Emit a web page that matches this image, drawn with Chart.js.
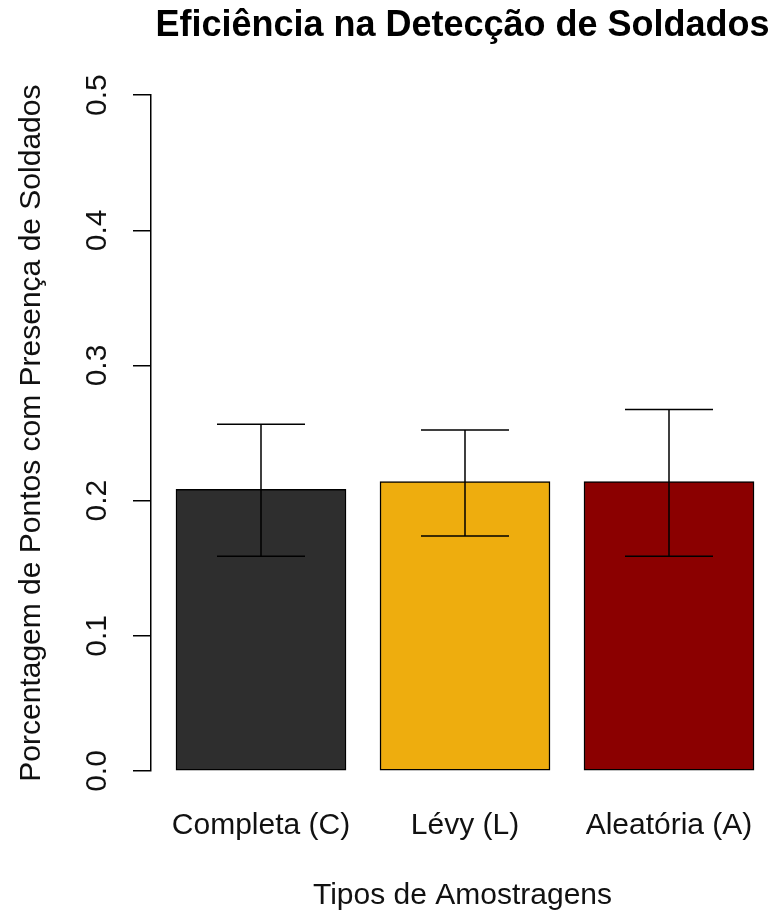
<!DOCTYPE html>
<html>
<head>
<meta charset="utf-8">
<script src="https://cdn.jsdelivr.net/npm/chart.js@4/dist/chart.umd.min.js"></script>
<style>
  html, body { margin: 0; padding: 0; background: #fff; }
  #wrap { width: 774px; height: 913px; }
</style>
</head>
<body>
<div id="wrap"><canvas id="chart" width="774" height="913"></canvas></div>
<script>
// --- Dados ---
const categories = ['Completa (C)', 'Lévy (L)', 'Aleatória (A)'];
const means = [0.2084, 0.2141, 0.2141];
const upper = [0.2565, 0.2523, 0.2674];   // topo da barra de erro
const lower = [0.1588, 0.1738, 0.1588];   // base da barra de erro
const barColors = ['#2E2E2E', '#EEAD0E', '#8B0000'];
const yTicks = [0, 0.1, 0.2, 0.3, 0.4, 0.5];

const FONT = '"Liberation Sans", Arial, sans-serif';

// barras de erro desenhadas por cima das barras
const errorBars = {
    id: 'errorBars',
    afterDatasetsDraw(chart) {
        const { ctx, scales: { x, y } } = chart;
        const cap = 44;
        ctx.save();
        ctx.strokeStyle = '#000';
        ctx.lineWidth = 1.5;
        categories.forEach((c, i) => {
            const px = x.getPixelForValue(i + 1);
            const hi = y.getPixelForValue(upper[i]);
            const lo = y.getPixelForValue(lower[i]);
            ctx.beginPath();
            ctx.moveTo(px, hi); ctx.lineTo(px, lo);
            ctx.moveTo(px - cap, hi); ctx.lineTo(px + cap, hi);
            ctx.moveTo(px - cap, lo); ctx.lineTo(px + cap, lo);
            ctx.stroke();
        });
        ctx.restore();
    }
};

Chart.defaults.font.family = FONT;
Chart.defaults.color = '#111';

new Chart(document.getElementById('chart'), {
    type: 'bar',
    data: {
        datasets: [{
            data: means.map((v, i) => ({ x: i + 1, y: v })),
            backgroundColor: barColors,
            borderColor: '#000',
            borderWidth: 1.5,
            borderSkipped: false,
            barThickness: 170
        }]
    },
    options: {
        responsive: false,
        animation: false,
        layout: { padding: 0, autoPadding: false },
        plugins: {
            legend: { display: false },
            tooltip: { enabled: false },
            title: {
                display: true,
                text: 'Eficiência na Detecção de Soldados',
                fullSize: false,
                color: '#000',
                font: { size: 36, weight: 'bold', family: FONT },
                padding: { top: 4, bottom: 48 }
            }
        },
        scales: {
            x: {
                type: 'linear',
                offset: false,
                min: 0.4608,
                max: 3.5147,
                grid: { display: false, drawTicks: false, offset: false },
                border: { display: false },
                afterBuildTicks: (scale) => { scale.ticks = categories.map((c, i) => ({ value: i + 1 })); },
                afterFit: (scale) => {
                    scale.height = 142;
                    scale.paddingLeft = 0;
                    scale.paddingRight = 0;
                },
                ticks: {
                    autoSkip: false,
                    maxRotation: 0,
                    padding: 37,
                    font: { size: 30 },
                    callback: (v) => categories[v - 1]
                },
                title: {
                    display: true,
                    text: 'Tipos de Amostragens',
                    font: { size: 30 },
                    padding: { top: 0, bottom: -1 }
                }
            },
            y: {
                min: 0,
                max: 0.5,
                afterBuildTicks: (scale) => { scale.ticks = yTicks.map(v => ({ value: v })); },
                afterFit: (scale) => { scale.width = 151; },
                grid: { drawOnChartArea: false, drawTicks: true, tickLength: 18, color: '#000', lineWidth: 1.5 },
                border: { display: true, color: '#000', width: 1.5 },
                ticks: {
                    minRotation: 90,
                    maxRotation: 90,
                    crossAlign: 'center',
                    padding: 14,
                    font: { size: 30 },
                    callback: (v) => v.toFixed(1)
                },
                title: {
                    display: true,
                    text: 'Porcentagem de Pontos com Presença de Soldados',
                    font: { size: 30 },
                    padding: { top: 14, bottom: 0 }
                }
            }
        }
    },
    plugins: [errorBars]
});
</script>
</body>
</html>
